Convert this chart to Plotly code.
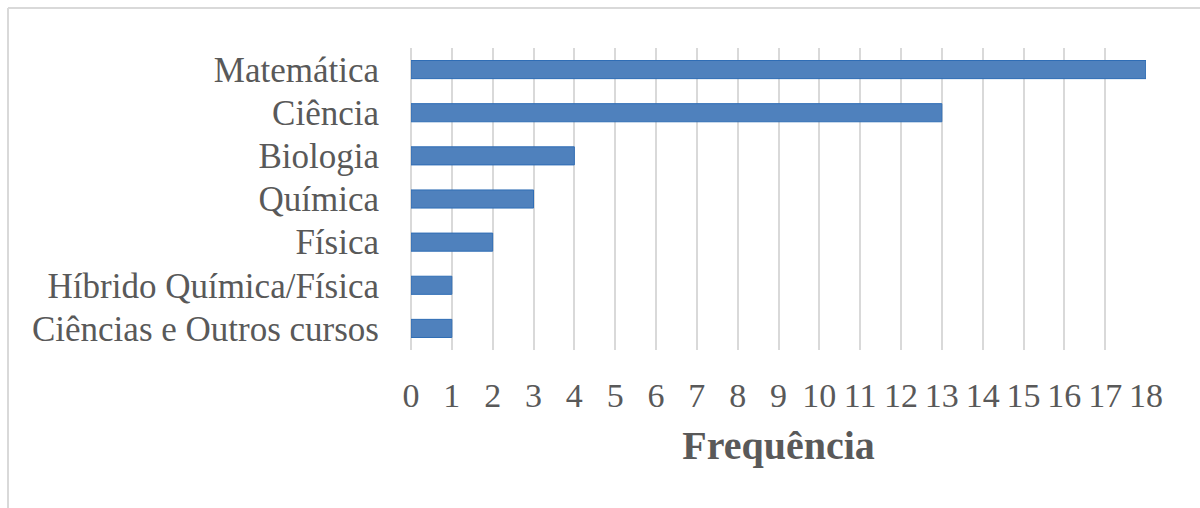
import plotly.graph_objects as go

categorias = [
    "Matemática",
    "Ciência",
    "Biologia",
    "Química",
    "Física",
    "Híbrido Química/Física",
    "Ciências e Outros cursos",
]
frequencia = [18, 13, 4, 3, 2, 1, 1]
ticks_x = list(range(0, 19))

W, H = 1200, 508
L, R, T, B = 411, 54, 48, 158
plot_w = W - L - R

fig = go.Figure(
    go.Bar(
        x=frequencia,
        y=categorias,
        orientation="h",
        width=0.42,
        marker=dict(color="#4f81bd", line=dict(color="#2f6db5", width=1)),
        hoverinfo="x+y",
    )
)

grid = "#d9d9d9"
fig.update_layout(
    width=W,
    height=H,
    margin=dict(l=L, r=R, t=T, b=B, pad=0),
    paper_bgcolor="white",
    plot_bgcolor="white",
    showlegend=False,
    font=dict(family="Liberation Serif, Times New Roman, serif", color="#595959"),
    xaxis=dict(
        range=[0, 18],
        tickvals=ticks_x,
        ticktext=[str(v) for v in ticks_x],
        showgrid=True,
        gridcolor=grid,
        gridwidth=2,
        zeroline=True,
        zerolinecolor=grid,
        zerolinewidth=2,
        showline=False,
        ticks="",
        ticklen=0,
        ticklabelstandoff=22,
        tickfont=dict(size=34, color="#595959"),
        title=dict(
            text="<b>Frequência</b>",
            font=dict(size=40, color="#595959"),
            standoff=17,
        ),
        fixedrange=True,
    ),
    yaxis=dict(
        categoryorder="array",
        categoryarray=categorias,
        autorange="reversed",
        showgrid=False,
        zeroline=False,
        showline=False,
        ticks="outside",
        ticklen=24,
        tickcolor="rgba(0,0,0,0)",
        tickfont=dict(size=35, color="#595959"),
        fixedrange=True,
    ),
    bargap=0.58,
)

# chart frame: left and top border of the chart area
x_left = (8 - L) / plot_w
x_right = (W + 10 - L) / plot_w
plot_h = H - T - B
y_top = (H - B - 8) / plot_h
y_bottom = (-B - 10) / plot_h
fig.add_shape(type="line", xref="paper", yref="paper",
              x0=x_left, x1=x_left, y0=y_bottom, y1=y_top,
              line=dict(color=grid, width=2))
fig.add_shape(type="line", xref="paper", yref="paper",
              x0=x_left, x1=x_right, y0=y_top, y1=y_top,
              line=dict(color=grid, width=2))

fig.write_html("out.html")
